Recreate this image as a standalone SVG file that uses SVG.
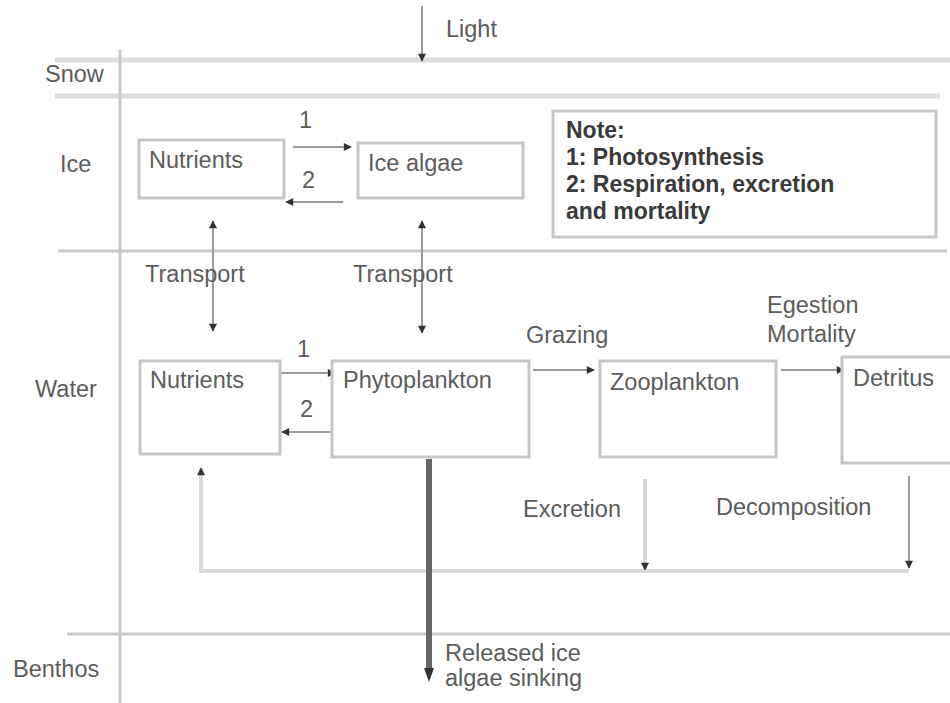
<svg xmlns="http://www.w3.org/2000/svg" width="950" height="703" viewBox="0 0 950 703">
<defs>
<marker id="ah" viewBox="0 0 10 10" refX="9" refY="5" markerWidth="9" markerHeight="8" markerUnits="userSpaceOnUse" orient="auto-start-reverse"><path d="M0,0 L10,5 L0,10 z" fill="#333"/></marker>
</defs>
<style>
.t{font-family:"Liberation Sans",Arial,sans-serif;font-size:23.5px;fill:#5c5c5c}
.n{font-family:"Liberation Sans",Arial,sans-serif;font-size:23px;font-weight:bold;fill:#3a3a3a}
.box{fill:#fff;stroke:#c6c6c6;stroke-width:3}
.ar{stroke:#9a9a9a;stroke-width:2;fill:none;marker-end:url(#ah)}
.bi{stroke:#9a9a9a;stroke-width:2;fill:none;marker-end:url(#ah);marker-start:url(#ah)}
</style>
<rect width="950" height="703" fill="#fff"/>
<g id="layers">
<line x1="55" y1="60" x2="950" y2="60" stroke="#dcdcdc" stroke-width="5"/>
<line x1="55" y1="96" x2="940" y2="96" stroke="#dcdcdc" stroke-width="5"/>
<line x1="58" y1="251" x2="947" y2="251" stroke="#c8c8c8" stroke-width="3"/>
<line x1="67" y1="634" x2="950" y2="634" stroke="#c8c8c8" stroke-width="3"/>
<line x1="120" y1="50" x2="120" y2="703" stroke="#c8c8c8" stroke-width="3"/>
<text class="t" x="45" y="82">Snow</text>
<text class="t" x="60" y="172">Ice</text>
<text class="t" x="35" y="397">Water</text>
<text class="t" x="13" y="677">Benthos</text>
</g>
<g id="connectors">
<line class="ar" x1="422" y1="6" x2="422" y2="61"/>
<text class="t" x="446" y="37">Light</text>
<line class="ar" x1="293" y1="147" x2="351" y2="147"/>
<text class="t" x="299" y="128">1</text>
<line class="ar" x1="343" y1="202" x2="286" y2="202"/>
<text class="t" x="302" y="188">2</text>
<line class="bi" x1="213" y1="221" x2="213" y2="331"/>
<line class="bi" x1="422" y1="221" x2="422" y2="333"/>
<text class="t" x="145" y="282">Transport</text>
<text class="t" x="353" y="282">Transport</text>
<line class="ar" x1="280" y1="373" x2="335" y2="373"/>
<text class="t" x="297" y="357">1</text>
<line class="ar" x1="333" y1="432" x2="282" y2="432"/>
<text class="t" x="300" y="417">2</text>
<line class="ar" x1="533" y1="370" x2="594" y2="370"/>
<text class="t" x="526" y="343">Grazing</text>
<line class="ar" x1="781" y1="370" x2="844" y2="370"/>
<text class="t" x="767" y="313">Egestion</text>
<text class="t" x="767" y="342">Mortality</text>
<polyline points="909,571 201,571 201,468" fill="none" stroke="#dadada" stroke-width="4" marker-end="url(#ah)"/>
<line x1="645" y1="479" x2="645" y2="570" stroke="#d6d6d6" stroke-width="4" marker-end="url(#ah)"/>
<text class="t" x="523" y="517">Excretion</text>
<line class="ar" x1="909" y1="476" x2="909" y2="568"/>
<text class="t" x="716" y="515">Decomposition</text>
<line x1="429" y1="459" x2="429" y2="670" stroke="#666" stroke-width="6"/>
<path d="M424,668 L434,668 L429,682 z" fill="#333"/>
<text class="t" x="445" y="661">Released ice</text>
<text class="t" x="445" y="686">algae sinking</text>
</g>
<g id="ice-nutrients"><rect class="box" x="139" y="140" width="145" height="58"/><text class="t" x="149" y="168">Nutrients</text></g>
<g id="ice-algae"><rect class="box" x="358" y="143" width="165" height="55"/><text class="t" x="368" y="171">Ice algae</text></g>
<g id="note"><rect class="box" x="553" y="111" width="383" height="126"/>
<text class="n" x="566" y="138">Note:</text>
<text class="n" x="566" y="165">1: Photosynthesis</text>
<text class="n" x="566" y="192">2: Respiration, excretion</text>
<text class="n" x="566" y="219">and mortality</text></g>
<g id="water-nutrients"><rect class="box" x="140" y="361" width="140" height="93"/><text class="t" x="150" y="388">Nutrients</text></g>
<g id="phytoplankton"><rect class="box" x="332" y="361" width="197" height="96"/><text class="t" x="343" y="388">Phytoplankton</text></g>
<g id="zooplankton"><rect class="box" x="600" y="361" width="176" height="96"/><text class="t" x="610" y="390">Zooplankton</text></g>
<g id="detritus"><rect class="box" x="842" y="357" width="120" height="106"/><text class="t" x="853" y="386">Detritus</text></g>
</svg>
